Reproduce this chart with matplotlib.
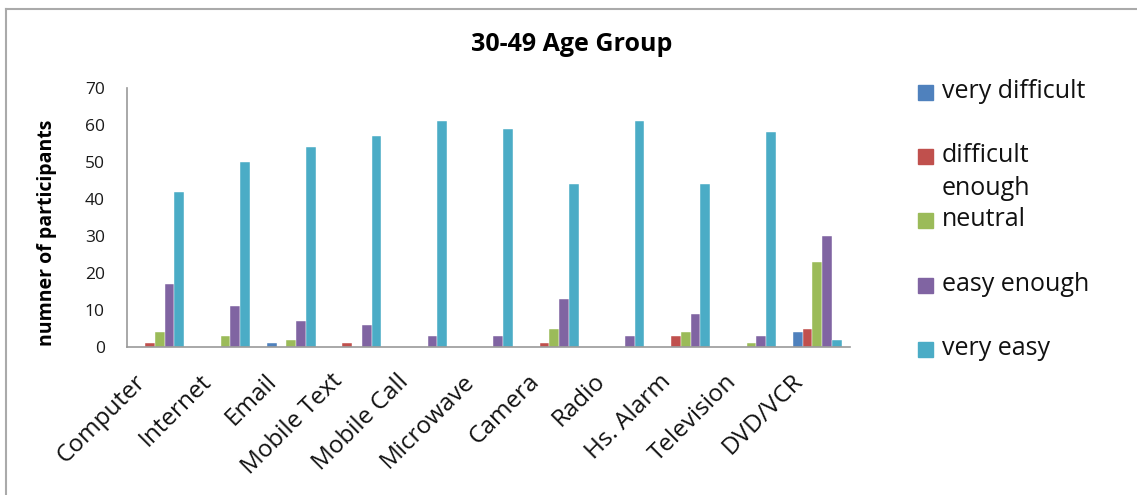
import matplotlib
matplotlib.use("Agg")
import matplotlib.pyplot as plt
import matplotlib.transforms as mtransforms
import numpy as np
from matplotlib.patches import Rectangle
from matplotlib.lines import Line2D

plt.rcParams['font.family'] = ['Open Sans', 'DejaVu Sans']

categories = ["Computer", "Internet", "Email", "Mobile Text", "Mobile Call",
              "Microwave", "Camera", "Radio", "Hs. Alarm", "Television", "DVD/VCR"]
series_names = ["very difficult", "difficult\nenough", "neutral", "easy enough", "very easy"]
very_difficult = [0, 0, 1, 0, 0, 0, 0, 0, 0, 0, 4]
difficult_enough = [1, 0, 0, 1, 0, 0, 1, 0, 3, 0, 5]
neutral = [4, 3, 2, 0, 0, 0, 5, 0, 4, 1, 23]
easy_enough = [17, 11, 7, 6, 3, 3, 13, 3, 9, 3, 30]
very_easy = [42, 50, 54, 57, 61, 59, 44, 61, 44, 58, 2]
colors = ["#4F81BD", "#C0504D", "#9BBB59", "#8064A2", "#4BACC6"]
yticks = [0, 10, 20, 30, 40, 50, 60, 70]

series = [very_difficult, difficult_enough, neutral, easy_enough, very_easy]

fig = plt.figure(figsize=(11.37, 4.95), dpi=100)
ax = fig.add_axes([0.1117, 0.299, 0.636, 0.523])

x = np.arange(len(categories))
bw = 0.148
for i, (vals, c) in enumerate(zip(series, colors)):
    ax.bar(x + (i - 2) * bw, vals, width=bw, color=c, edgecolor="white", linewidth=0.3)

ax.set_xlim(-0.5, len(categories) - 0.5)
ax.set_ylim(0, 70)
ax.set_yticks(yticks)
ax.set_yticklabels([str(t) for t in yticks], fontsize=12.5, color="#1a1a1a")
ax.set_xticks(x)
ax.set_xticklabels([])
ax.tick_params(axis="x", length=0)
ax.tick_params(axis="y", length=0, pad=16)

# rotated category labels, right end placed just left of and below each tick
label_tf = mtransforms.blended_transform_factory(ax.transData, ax.transAxes) + \
    mtransforms.ScaledTranslation(-18 / 100, -31 / 100, fig.dpi_scale_trans)
for xi, cat in zip(x, categories):
    ax.text(xi, 0, cat, transform=label_tf, rotation=45, rotation_mode="anchor",
            ha="right", va="center", fontsize=17.5, color="#111111")

for s in ["top", "right"]:
    ax.spines[s].set_visible(False)
for s in ["left", "bottom"]:
    ax.spines[s].set_color("#999999")
    ax.spines[s].set_linewidth(1.2)

ax.set_ylabel("numner of participants", fontsize=14, fontweight="bold")
ax.yaxis.set_label_coords(-0.097, 0.44)
fig.text(0.503, 0.91, "30-49 Age Group", ha="center", va="center",
         fontsize=18, fontweight="bold")

# legend drawn at the right side
leg_x = 918 / 1137
leg_rows = [93, 157, 221, 286, 350]
for name, c, row in zip(series_names, colors, leg_rows):
    yc = 1 - row / 495
    fig.add_artist(Rectangle((leg_x, yc - 7 / 495), 15 / 1137, 15 / 495,
                             transform=fig.transFigure, color=c))
    fig.text(leg_x + 24 / 1137, yc + 14 / 495, name, ha="left", va="top",
             fontsize=18, linespacing=1.4, color="#111111")

# outer frame lines (left and top)
fig.add_artist(Line2D([6 / 1137, 6 / 1137], [0, 1 - 9 / 495],
                      transform=fig.transFigure, color="#aaaaaa", lw=1.5))
fig.add_artist(Line2D([6 / 1137, 1], [1 - 9 / 495, 1 - 9 / 495],
                      transform=fig.transFigure, color="#aaaaaa", lw=1.5))

fig.savefig("out.png", dpi=100)
